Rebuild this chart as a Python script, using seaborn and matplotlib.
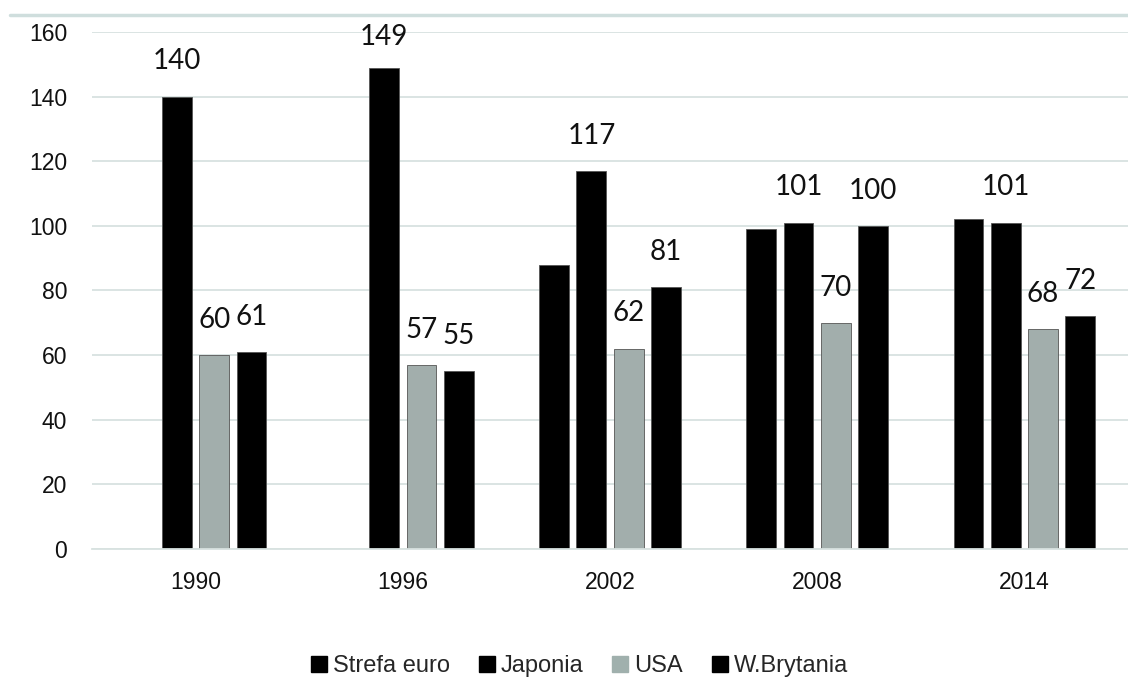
import matplotlib
matplotlib.use("Agg")
import matplotlib.pyplot as plt
from matplotlib.lines import Line2D
import numpy as np
import pandas as pd
import seaborn as sns

years = ["1990", "1996", "2002", "2008", "2014"]
series = ["Strefa euro", "Japonia", "USA", "W.Brytania"]
strefa_euro = [np.nan, np.nan, 88, 99, 102]
japonia = [140, 149, 117, 101, 101]
usa = [60, 57, 62, 70, 68]
w_brytania = [61, 55, 81, 100, 72]
labelled = ["Japonia", "USA", "W.Brytania"]
yticks = [0, 20, 40, 60, 80, 100, 120, 140, 160]

colors = {"Strefa euro": "#000000", "Japonia": "#000000",
          "USA": "#a0b0ad", "W.Brytania": "#000000"}

df = pd.DataFrame({
    "rok": years * 4,
    "seria": np.repeat(series, len(years)),
    "wartosc": strefa_euro + japonia + usa + w_brytania,
})

sns.set_theme(style="white")
tick_font = ["Liberation Sans", "DejaVu Sans"]
label_font = ["Lato", "DejaVu Sans"]

fig = plt.figure(figsize=(11.28, 6.81), dpi=100)
ax = fig.add_axes([0.0816, 0.194, 0.9184, 0.759])

sns.barplot(data=df, x="rok", y="wartosc", hue="seria", order=years,
            hue_order=series, palette=colors, width=0.72, gap=0.2,
            edgecolor="#555555", linewidth=0.6, legend=False, ax=ax)

ymax = 160
ax.set_ylim(0, ymax)
ax.set_yticks(yticks)
ax.set_yticklabels([str(t) for t in yticks], family=tick_font, fontsize=16.5,
                   color="#111111")
ax.set_xticks(range(len(years)))
ax.set_xticklabels(years, family=tick_font, fontsize=16.5, color="#111111")
ax.tick_params(axis="y", length=0, pad=18)
ax.tick_params(axis="x", length=0, pad=16)
ax.set_xlabel("")
ax.set_ylabel("")
ax.grid(axis="y", color="#d8e2e0", linewidth=1.3)
ax.set_axisbelow(True)
for side in ["top", "right", "left"]:
    ax.spines[side].set_visible(False)
ax.spines["bottom"].set_color("#d8e2e0")
ax.spines["bottom"].set_linewidth(1.3)

# value labels above the three labelled series; labels that would rise
# past the top of the plot area are pulled down to fit inside it
pad_pt = 16
px_per_unit = ax.get_window_extent().height / ymax
label_height_units = 21 / px_per_unit
pad_units = pad_pt * fig.dpi / 72 / px_per_unit
for name, container in zip(series, ax.containers):
    if name not in labelled:
        continue
    anns = ax.bar_label(container, fmt="%.0f", padding=pad_pt, fontsize=20,
                        family=label_font, color="#111111")
    for bar, ann in zip(container, anns):
        top = bar.get_height() + pad_units + label_height_units
        excess = top - (ymax + 1)
        if excess > 0:
            shift_pt = excess * px_per_unit * 72 / fig.dpi
            ann.xyann = (0, pad_pt - shift_pt)

# thin band across the top of the figure
fig.add_artist(Line2D([0.009, 1.0], [0.978, 0.978], transform=fig.transFigure,
                      color="#cfdedd", linewidth=2.5))

handles = [Line2D([], [], marker="s", linestyle="", markersize=11,
                  markerfacecolor=colors[s], markeredgecolor=colors[s])
           for s in series]
fig.legend(handles, series, loc="center", bbox_to_anchor=(0.513, 0.022),
           ncol=4, frameon=False, handletextpad=0.2, columnspacing=1.15,
           handlelength=0.8, prop={"family": tick_font, "size": 17})

fig.savefig("out.png", dpi=100)
